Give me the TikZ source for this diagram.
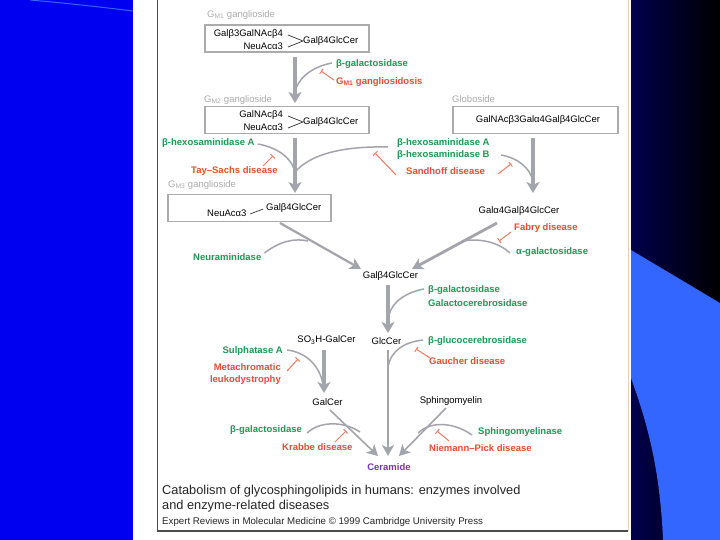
\documentclass[tikz,border=0pt]{standalone}
\usepackage{fontspec}
\setmainfont{Liberation Sans}
\usetikzlibrary{arrows.meta}
\definecolor{enzgreen}{HTML}{1B9A55}
\definecolor{disred}{HTML}{E2502E}
\definecolor{flowgrey}{HTML}{A4A4AC}
\definecolor{lipidgrey}{HTML}{ABABAB}
\definecolor{slideblue}{HTML}{0000F0}
\definecolor{slidelight}{HTML}{3366FF}
\definecolor{cerpurple}{HTML}{7A35B0}
\newcommand{\sz}{\fontsize{9.5}{11}\selectfont}
\tikzstyle{lipid} =[inner sep=0pt, font=\sz, text=black]
\tikzstyle{grouptitle} =[inner sep=0pt, anchor=west, font=\sz, text=lipidgrey]
\tikzstyle{enzyme} =[inner sep=0pt, anchor=west, font=\sz\bfseries, text=enzgreen]
\tikzstyle{disease} =[inner sep=0pt, anchor=west, font=\sz\bfseries, text=disred]
\tikzstyle{lipidbox} =[draw=lipidgrey, fill=white, line width=1.2pt, minimum height=27pt, inner sep=0pt]
\tikzstyle{caption} =[inner sep=0pt, anchor=west, text=black!85]
\tikzstyle{mainflow} =[draw=flowgrey, line width=3.6pt, -{Stealth[length=11pt,width=13pt,inset=3pt]}]
\tikzstyle{sideflow} =[draw=flowgrey, line width=2.2pt, -{Stealth[length=11pt,width=12pt,inset=3pt]}]
\tikzstyle{catalysis} =[draw=flowgrey, line width=1.5pt]
\tikzstyle{inhibit} =[draw=disred!75!white, line width=1pt, -{Bar[width=6pt]}]
\tikzstyle{brace} =[draw=black!80, line width=.7pt]
\begin{document}
\begin{tikzpicture}[x=1pt,y=-1pt]
	\useasboundingbox (0,0) rectangle (720,540);
	% slide background
	\fill[slideblue] (0,0) rectangle (133,540);
	\draw[slidelight, line width=1pt] (30,0) .. controls (65,3) and (100,7) .. (133,11);
	\shade[left color=black!70!blue, right color=black] (631,0) rectangle (720,540);
	\fill[slidelight] (631,250) -- (720,303) -- (720,540) -- (663,540) .. controls (660,470) and (648,425) .. (631,378) -- cycle;
	\fill[white] (133,0) rectangle (631,540);
	\draw[black!70, line width=1.2pt] (157.5,0) -- (157.5,531) -- (628,531);
	\draw[black!25!orange!30!white, line width=1pt] (628,531) -- (628,0);
	\draw[black!40!blue!50!white, line width=1pt] (157.5,0) -- (628,0);
	% top: GM1 and GM2
	\node[grouptitle] (gmonetitle) at (207,15) {G\textsubscript{M1} ganglioside};
	\node[lipidbox, minimum width=164pt] (gmonebox) at (287,38.5) {};
	\node[lipid, anchor=east] (gmonea) at (283,34) {Galβ3GalNAcβ4};
	\node[lipid, anchor=east] (gmoneb) at (283,46) {NeuAcα3};
	\node[lipid, anchor=west] (gmonec) at (303,41) {Galβ4GlcCer};
	\draw[brace] (288,35) -- (gmonec.west) -- (288,47);
	\node[enzyme] (galaseone) at (336,64) {β-galactosidase};
	\node[disease] (gmonedis) at (336,82) {G\textsubscript{M1} gangliosidosis};
	\node[grouptitle] (gmtwotitle) at (204,100) {G\textsubscript{M2} ganglioside};
	\node[lipidbox, minimum width=164pt] (gmtwobox) at (287,120) {};
	\node[lipid, anchor=east] (gmtwoa) at (283,115) {GalNAcβ4};
	\node[lipid, anchor=east] (gmtwob) at (283,127) {NeuAcα3};
	\node[lipid, anchor=west] (gmtwoc) at (303,122) {Galβ4GlcCer};
	\draw[brace] (288,116) -- (gmtwoc.west) -- (288,128);
	\coordinate (gmonetop) at (295,57);
	\coordinate (gmoneend) at (295,103);
	\coordinate (gmonejoin) at (296,88);
	\draw[mainflow] (gmonetop) -- (gmoneend);
	\draw[catalysis] (galaseone.west) ++(-4,-1) .. controls (316,66) and (302,74) .. (gmonejoin);
	\coordinate (gmonebar) at (321,71);
	\draw[inhibit] (gmonedis.west) ++(-2,-2) -- (gmonebar);
	% hexosaminidase step
	\node[enzyme] (hexaleft) at (162,143) {β-hexosaminidase A};
	\node[disease] (taysachs) at (191,171) {Tay–Sachs disease};
	\node[enzyme] (hexaright) at (397,143) {β-hexosaminidase A};
	\node[enzyme] (hexbright) at (397,155) {β-hexosaminidase B};
	\node[disease] (sandhoff) at (406,171) {Sandhoff disease};
	\node[grouptitle] (gmthreetitle) at (168,185) {G\textsubscript{M3} ganglioside};
	\node[lipidbox, minimum width=163pt] (gmthreebox) at (249.5,208) {};
	\node[lipid, anchor=west] (gmthreea) at (207,213) {NeuAcα3};
	\node[lipid, anchor=west] (gmthreeb) at (266,208) {Galβ4GlcCer};
	\draw[brace, shorten >=3pt] (250,214) -- (gmthreeb.west);
	\coordinate (gmtwotop) at (295,138);
	\coordinate (gmtwoend) at (295,193);
	\coordinate (gmtwojoin) at (295,172);
	\coordinate (hexlinkright) at (388,147);
	\draw[mainflow] (gmtwotop) -- (gmtwoend);
	\draw[catalysis] (hexaleft.east) ++(3,1) .. controls (275,147) and (291,156) .. (gmtwojoin);
	\draw[catalysis] (hexlinkright) .. controls (340,146) and (310,155) .. (gmtwojoin);
	\coordinate (taybase) at (263,166);
	\coordinate (taybar) at (273,156);
	\draw[inhibit] (taybase) -- (taybar);
	\coordinate (sandbase) at (396,175);
	\coordinate (sandbar) at (375,153);
	\draw[inhibit] (sandbase) -- (sandbar);
	% globoside side
	\node[grouptitle] (globotitle) at (452,99) {Globoside};
	\node[lipidbox, minimum width=165pt] (globobox) at (535.5,120) {};
	\node[lipid] (globolipid) at (538,120) {GalNAcβ3Galα4Galβ4GlcCer};
	\node[lipid] (galgal) at (519,211) {Galα4Galβ4GlcCer};
	\node[disease] (fabry) at (514,228) {Fabry disease};
	\node[enzyme] (agal) at (516,252) {α-galactosidase};
	\coordinate (globotop) at (533,138);
	\coordinate (globoend) at (533,193);
	\coordinate (globojoin) at (533,181);
	\coordinate (sandlink) at (501,155);
	\draw[mainflow] (globotop) -- (globoend);
	\draw[catalysis] (sandlink) .. controls (518,158) and (530,168) .. (globojoin);
	\coordinate (sandtwobase) at (498,174);
	\coordinate (sandtwobar) at (511,164);
	\draw[inhibit] (sandtwobase) -- (sandtwobar);
	% into lactosylceramide
	\node[lipid] (lactosyl) at (390.5,276) {Galβ4GlcCer};
	\node[enzyme] (neuram) at (193,257) {Neuraminidase};
	\coordinate (gmthreeout) at (280,223);
	\coordinate (gmthreeend) at (361,269);
	\coordinate (galgalout) at (497,223);
	\coordinate (galgalend) at (412,269);
	\coordinate (neurjoin) at (308,241);
	\coordinate (agaljoin) at (462,241);
	\draw[sideflow] (gmthreeout) -- (gmthreeend);
	\draw[sideflow, line width=2.8pt] (galgalout) -- (galgalend);
	\draw[catalysis] (neuram.east) ++(3,-4) .. controls (280,241) and (295,238) .. (neurjoin);
	\draw[catalysis] (agal.west) ++(-6,1) .. controls (498,242) and (480,238) .. (agaljoin);
	\coordinate (fabrybar) at (499,241);
	\draw[inhibit] (fabry.west) ++(-3,4) -- (fabrybar);
	% middle column
	\node[enzyme] (galasetwo) at (428,290) {β-galactosidase};
	\node[enzyme] (galcbase) at (428,303) {Galactocerebrosidase};
	\node[lipid] (glccer) at (386.5,341) {GlcCer};
	\node[lipid] (sulfogal) at (326.5,340) {SO\textsubscript{3}H-GalCer};
	\node[enzyme] (glcase) at (428,341) {β-glucocerebrosidase};
	\node[disease] (gaucher) at (429,361) {Gaucher disease};
	\coordinate (lacttop) at (388,285);
	\coordinate (lactend) at (388,333);
	\coordinate (lactjoin) at (389,315);
	\coordinate (glctop) at (388,350);
	\coordinate (cerend) at (388,456);
	\coordinate (glcjoin) at (388,367);
	\draw[mainflow] (lacttop) -- (lactend);
	\draw[sideflow] (glctop) -- (cerend);
	\draw[catalysis] (galasetwo.west) ++(-4,-1) .. controls (408,292) and (393,300) .. (lactjoin);
	\draw[catalysis] (glcase.west) ++(-5,-1) .. controls (405,342) and (391,350) .. (glcjoin);
	\coordinate (gaubar) at (416,349);
	\draw[inhibit] (gaucher.west) ++(1,-3) -- (gaubar);
	% sulphatide branch
	\node[enzyme, anchor=east] (sulphatase) at (283,351) {Sulphatase A};
	\node[disease, anchor=east] (metaa) at (281,367) {Metachromatic};
	\node[disease, anchor=east] (metab) at (281,380) {leukodystrophy};
	\node[lipid] (galcer) at (327.5,402) {GalCer};
	\coordinate (sulfotop) at (324,350);
	\coordinate (sulfoend) at (324,393);
	\coordinate (sulfojoin) at (323,385);
	\draw[mainflow] (sulfotop) -- (sulfoend);
	\draw[catalysis] (sulphatase.east) ++(4,-1) .. controls (305,352) and (320,365) .. (sulfojoin);
	\coordinate (metabar) at (298,359);
	\draw[inhibit] (metaa.east) ++(6,4) -- (metabar);
	% ceramide
	\node[lipid, text=cerpurple, font=\sz\bfseries] (ceramide) at (389,467) {Ceramide};
	\node[enzyme] (galasethree) at (230,430) {β-galactosidase};
	\node[disease] (krabbe) at (282,447) {Krabbe disease};
	\node[lipid] (sphingo) at (451,401) {Sphingomyelin};
	\node[enzyme] (sphingase) at (478,432) {Sphingomyelinase};
	\node[disease] (niemann) at (429,448) {Niemann–Pick disease};
	\coordinate (galcerout) at (330,410);
	\coordinate (galcerend) at (378,456);
	\coordinate (sphout) at (446,408);
	\coordinate (sphend) at (399,456);
	\coordinate (galjoin) at (360,432);
	\coordinate (sphjoin) at (418,433);
	\draw[sideflow, line width=1.6pt] (galcerout) -- (galcerend);
	\draw[sideflow, line width=1.6pt] (sphout) -- (sphend);
	\draw[catalysis] (galasethree.east) ++(5,3) .. controls (318,422) and (342,420) .. (galjoin);
	\draw[catalysis] (sphingase.west) ++(-6,3) .. controls (455,423) and (432,420) .. (sphjoin);
	\coordinate (krabase) at (335,442);
	\coordinate (krabar) at (346,431);
	\draw[inhibit] (krabase) -- (krabar);
	\coordinate (niembase) at (449,441);
	\coordinate (niembar) at (437,431);
	\draw[inhibit] (niembase) -- (niembar);
	% caption
	\node[caption, font=\fontsize{12.8}{14}\selectfont] (capa) at (162,491) {Catabolism of glycosphingolipids in humans: enzymes involved};
	\node[caption, font=\fontsize{12.8}{14}\selectfont] (capb) at (162,506) {and enzyme-related diseases};
	\node[caption, font=\fontsize{9.7}{11}\selectfont] (capc) at (162,522) {Expert Reviews in Molecular Medicine © 1999 Cambridge University Press};
\end{tikzpicture}
\end{document}
